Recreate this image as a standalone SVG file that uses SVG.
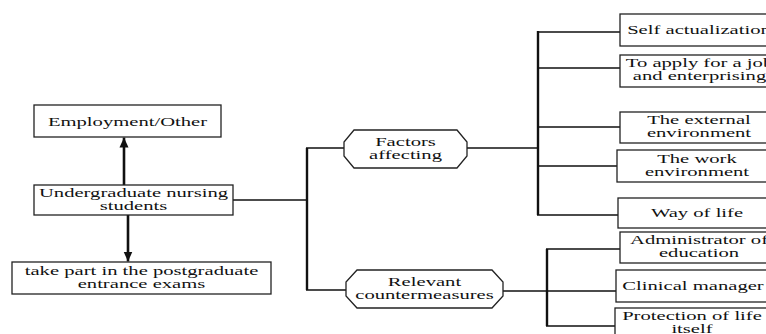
<svg xmlns="http://www.w3.org/2000/svg" width="766" height="334" viewBox="0 0 766 334">
<style>
.box{fill:#fff;stroke:#222;stroke-width:1.3}
.t{font-family:"Liberation Serif","Times New Roman",serif;font-size:12.5px;fill:#111;text-anchor:middle}
.ln{fill:none;stroke:#111;stroke-width:1.6}
.vl{fill:none;stroke:#111;stroke-width:2.4}
.ar{fill:none;stroke:#111;stroke-width:2.6}
</style>
<defs>
<marker id="ah" markerUnits="userSpaceOnUse" markerWidth="10" markerHeight="10" viewBox="0 0 10 10" refX="10" refY="5" orient="auto">
<path d="M0,0.5 L10,5 L0,9.5 Z" fill="#111"/>
</marker>
</defs>
<rect width="766" height="334" fill="#fff"/>
<g id="connectors">
<line class="ar" x1="124" y1="185" x2="124" y2="137.5" marker-end="url(#ah)"/>
<line class="ar" x1="128" y1="215" x2="128" y2="261.5" marker-end="url(#ah)"/>
<path class="ln" d="M233,200 H307"/>
<path class="vl" d="M307,148 V290"/>
<path class="ln" d="M306,148 H344 M306,290 H346"/>
<path class="ln" d="M467,148 H538"/>
<path class="vl" d="M538,31 V215"/>
<path class="ln" d="M537,32 H620 M537,68 H620 M537,127 H620 M537,166 H617 M537,215 H618"/>
<path class="ln" d="M503,291 H547"/>
<path class="vl" d="M547,249 V326"/>
<path class="ln" d="M546,249 H620 M546,291 H616 M546,326 H615"/>
</g>
<g id="employment">
<rect class="box" x="34" y="105" width="187" height="32"/>
<text class="t" transform="translate(127.5 126) scale(1.65 1)">Employment/Other</text>
</g>
<g id="undergrad">
<rect class="box" x="34" y="185" width="199" height="30"/>
<text class="t" transform="translate(133.5 197) scale(1.65 1)"><tspan x="0">Undergraduate nursing</tspan><tspan x="0" y="13">students</tspan></text>
</g>
<g id="postgrad">
<rect class="box" x="12" y="262" width="259" height="32"/>
<text class="t" transform="translate(141.5 275) scale(1.65 1)"><tspan x="0">take part in the postgraduate</tspan><tspan x="0" y="13">entrance exams</tspan></text>
</g>
<g id="factors">
<polygon class="box" points="354,130 457,130 467,142 467,156 457,168 354,168 344,156 344,142"/>
<text class="t" transform="translate(405.5 146) scale(1.65 1)"><tspan x="0">Factors</tspan><tspan x="0" y="13">affecting</tspan></text>
</g>
<g id="countermeasures">
<polygon class="box" points="357,270 492,270 503,282 503,296 492,308 357,308 346,296 346,282"/>
<text class="t" transform="translate(424.5 286) scale(1.65 1)"><tspan x="0">Relevant</tspan><tspan x="0" y="13">countermeasures</tspan></text>
</g>
<g id="self">
<rect class="box" x="620" y="14" width="160" height="32"/>
<text class="t" transform="translate(699 34) scale(1.65 1)">Self actualization</text>
</g>
<g id="apply">
<rect class="box" x="620" y="55" width="160" height="32"/>
<text class="t" transform="translate(699.5 67) scale(1.65 1)"><tspan x="0">To apply for a job</tspan><tspan x="0" y="13">and enterprising</tspan></text>
</g>
<g id="external">
<rect class="box" x="620" y="112" width="158" height="31"/>
<text class="t" transform="translate(699 124) scale(1.65 1)"><tspan x="0">The external</tspan><tspan x="0" y="13">environment</tspan></text>
</g>
<g id="work">
<rect class="box" x="617" y="150" width="161" height="32"/>
<text class="t" transform="translate(697 163) scale(1.65 1)"><tspan x="0">The work</tspan><tspan x="0" y="13">environment</tspan></text>
</g>
<g id="wayoflife">
<rect class="box" x="618" y="198" width="160" height="30"/>
<text class="t" transform="translate(697 217) scale(1.65 1)">Way of life</text>
</g>
<g id="administrator">
<rect class="box" x="620" y="232" width="160" height="31"/>
<text class="t" transform="translate(699 244) scale(1.65 1)"><tspan x="0">Administrator of</tspan><tspan x="0" y="13">education</tspan></text>
</g>
<g id="clinical">
<rect class="box" x="616" y="270" width="160" height="32"/>
<text class="t" transform="translate(693 290) scale(1.65 1)">Clinical manager</text>
</g>
<g id="protection">
<rect class="box" x="615" y="308" width="160" height="34"/>
<text class="t" transform="translate(692 320) scale(1.65 1)"><tspan x="0">Protection of life</tspan><tspan x="0" y="13">itself</tspan></text>
</g>
</svg>
